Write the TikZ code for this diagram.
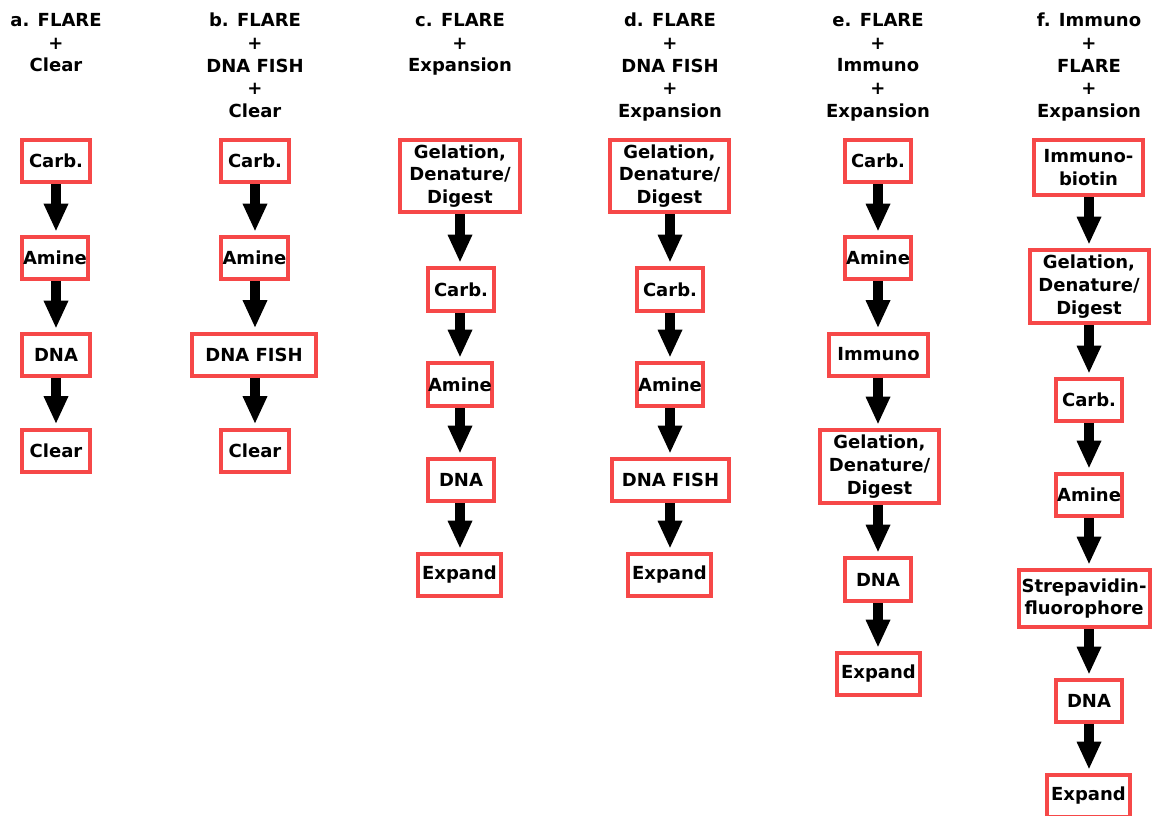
\documentclass[tikz,border=0pt]{standalone}
\usepackage{fontspec}
\setmainfont{DejaVu Sans}
\usetikzlibrary{arrows.meta}
\definecolor{boxred}{RGB}{246,72,72}
\tikzset{
  px/.style={x=0.75pt,y=-0.75pt},
  flowbox/.style={draw=boxred,line width=3pt,fill=white,align=center,inner sep=0pt,
    font=\fontsize{13.5}{17}\selectfont\bfseries,minimum height=42*0.75pt},
  bw/.style={minimum width=#1*0.75pt},
  bh/.style={minimum height=#1*0.75pt},
  hdr/.style={align=center,inner sep=0pt,anchor=north,font=\fontsize{13.5}{17}\selectfont\bfseries},
  arr/.style={line width=7.5pt,-{Triangle[width=17pt,length=21pt]},shorten >=2.5pt}
}
\begin{document}
\begin{tikzpicture}[px]
\useasboundingbox (0,0) rectangle (1152,815);
% column axes
\coordinate (xa) at (56,0);
\coordinate (xb) at (255,0);
\coordinate (xc) at (460,0);
\coordinate (xd) at (670,0);
\coordinate (xe) at (878,0);
\coordinate (xf) at (1089,0);
% headers
\node[hdr] (ha) at (56,13) {a. FLARE\\+\\Clear};
\node[hdr] (hb) at (255,13) {b. FLARE\\+\\DNA FISH\\+\\Clear};
\node[hdr] (hc) at (460,13) {c. FLARE\\+\\Expansion};
\node[hdr] (hd) at (670,13) {d. FLARE\\+\\DNA FISH\\+\\Expansion};
\node[hdr] (he) at (878,13) {e. FLARE\\+\\Immuno\\+\\Expansion};
\node[hdr] (hf) at (1089,13) {f. Immuno\\+\\FLARE\\+\\Expansion};
% column a
\node[flowbox,bw=68] (a1) at (56,161) {Carb.};
\node[flowbox,bw=66] (a2) at (55,258) {Amine};
\node[flowbox,bw=68] (a3) at (56,355) {DNA};
\node[flowbox,bw=68] (a4) at (56,450.5) {Clear};
% column b
\node[flowbox,bw=68] (b1) at (255,161) {Carb.};
\node[flowbox,bw=67] (b2) at (254.5,258) {Amine};
\node[flowbox,bw=124] (b3) at (254,354.5) {DNA FISH};
\node[flowbox,bw=68] (b4) at (255,450.5) {Clear};
% column c
\node[flowbox,bw=120,bh=72] (c1) at (460,176) {Gelation,\\Denature/\\Digest};
\node[flowbox,bw=66,bh=43] (c2) at (461,289.5) {Carb.};
\node[flowbox,bw=64,bh=43] (c3) at (460,384.5) {Amine};
\node[flowbox,bw=66] (c4) at (461,480) {DNA};
\node[flowbox,bw=83] (c5) at (459.5,575) {Expand};
% column d
\node[flowbox,bw=119,bh=72] (d1) at (669.5,176) {Gelation,\\Denature/\\Digest};
\node[flowbox,bw=66,bh=43] (d2) at (670,289.5) {Carb.};
\node[flowbox,bw=66,bh=43] (d3) at (670,384.5) {Amine};
\node[flowbox,bw=117] (d4) at (670.5,480) {DNA FISH};
\node[flowbox,bw=83] (d5) at (669.5,575) {Expand};
% column e
\node[flowbox,bw=66] (e1) at (878,161) {Carb.};
\node[flowbox,bw=66] (e2) at (878,258) {Amine};
\node[flowbox,bw=99] (e3) at (878.5,354.5) {Immuno};
\node[flowbox,bw=119,bh=73] (e4) at (879.5,466.5) {Gelation,\\Denature/\\Digest};
\node[flowbox,bw=66,bh=43] (e5) at (878,579.5) {DNA};
\node[flowbox,bw=83] (e6) at (878.5,674) {Expand};
% column f
\node[flowbox,bw=109,bh=55] (f1) at (1088.5,167.5) {Immuno-\\biotin};
\node[flowbox,bw=119,bh=73] (f2) at (1089,286.5) {Gelation,\\Denature/\\Digest};
\node[flowbox,bw=66] (f3) at (1089,400) {Carb.};
\node[flowbox,bw=66] (f4) at (1089,495) {Amine};
\node[flowbox,bw=131,bh=57] (f5) at (1084,598.5) {Strepavidin-\\fluorophore};
\node[flowbox,bw=66] (f6) at (1089,701) {DNA};
\node[flowbox,bw=83] (f7) at (1088.5,796) {Expand};
% arrows
\foreach \c/\n in {a/4,b/4,c/5,d/5,e/6,f/7}{
  \foreach \i [evaluate=\i as \j using int(\i+1)] in {1,...,\numexpr\n-1\relax}{
    \draw[arr] (\c\i.south -| x\c) -- (\c\j.north -| x\c);
  }
}
\end{tikzpicture}
\end{document}
